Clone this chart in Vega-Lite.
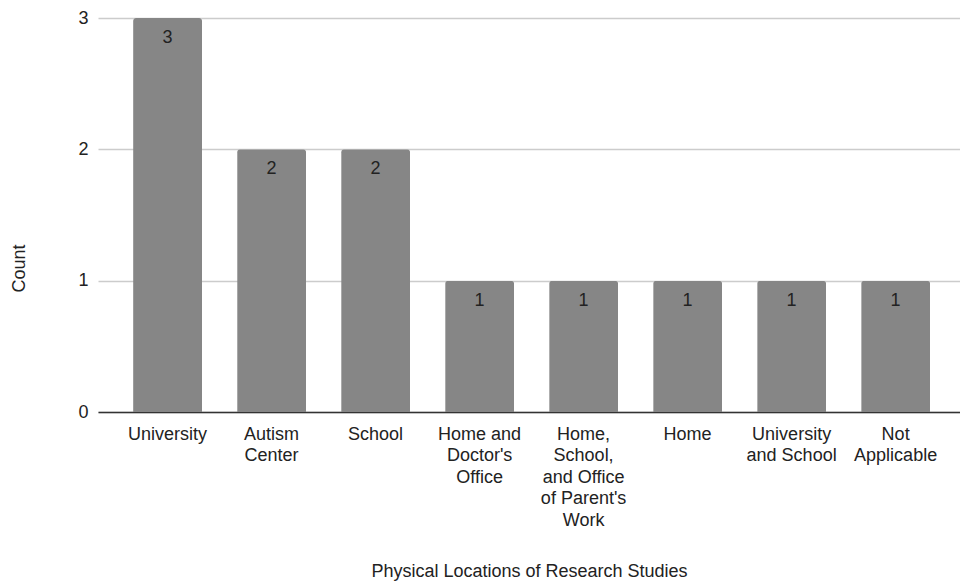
{
  "$schema": "https://vega.github.io/schema/vega-lite/v6.json",
  "width": 862,
  "height": 394,
  "autosize": {"type": "none"},
  "padding": {"left": 98, "top": 18, "right": 0, "bottom": 170},
  "background": "white",
  "config": {
    "view": {"stroke": null},
    "font": "Liberation Sans"
  },
  "data": {
    "values": [
      {"location": "University", "count": 3},
      {"location": "Autism Center", "count": 2},
      {"location": "School", "count": 2},
      {"location": "Home and Doctor's Office", "count": 1},
      {"location": "Home, School, and Office of Parent's Work", "count": 1},
      {"location": "Home", "count": 1},
      {"location": "University and School", "count": 1},
      {"location": "Not Applicable", "count": 1}
    ]
  },
  "encoding": {
    "x": {
      "field": "location",
      "type": "nominal",
      "sort": null,
      "scale": {"paddingInner": 0.337, "paddingOuter": 0.3125, "align": 0.54},
      "axis": {
        "title": "Physical Locations of Research Studies",
        "titleFontSize": 18,
        "titleFontWeight": "normal",
        "titleColor": "#222222",
        "titleY": 159,
        "titleBaseline": "middle",
        "labelAngle": 0,
        "labelFontSize": 18,
        "labelColor": "#222222",
        "labelLineHeight": 21.5,
        "labelPadding": 13,
        "labelLimit": 0,
        "ticks": false,
        "domainColor": "#333333",
        "domainWidth": 1.5,
        "labelExpr": "datum.value == 'Autism Center' ? ['Autism', 'Center'] : datum.value == \"Home and Doctor's Office\" ? ['Home and', \"Doctor's\", 'Office'] : datum.value == \"Home, School, and Office of Parent's Work\" ? ['Home,', 'School,', 'and Office', \"of Parent's\", 'Work'] : datum.value == 'University and School' ? ['University', 'and School'] : datum.value == 'Not Applicable' ? ['Not', 'Applicable'] : datum.value"
      }
    },
    "y": {
      "field": "count",
      "type": "quantitative",
      "scale": {"domain": [0, 3]},
      "axis": {
        "title": "Count",
        "titleFontSize": 18,
        "titleFontWeight": "normal",
        "titleColor": "#222222",
        "titleX": -79,
        "titleY": 250,
        "titleAlign": "center",
        "titleBaseline": "middle",
        "values": [0, 1, 2, 3],
        "format": "d",
        "labelFontSize": 18,
        "labelColor": "#222222",
        "labelPadding": 10,
        "ticks": false,
        "domain": false,
        "gridColor": "#cccccc",
        "gridWidth": 1.5
      }
    }
  },
  "layer": [
    {
      "mark": {"type": "bar", "color": "#868686", "cornerRadiusTopLeft": 3, "cornerRadiusTopRight": 3}
    },
    {
      "mark": {"type": "text", "baseline": "middle", "dy": 20, "fontSize": 18, "color": "#222222"},
      "encoding": {"text": {"field": "count", "type": "quantitative"}}
    }
  ]
}
